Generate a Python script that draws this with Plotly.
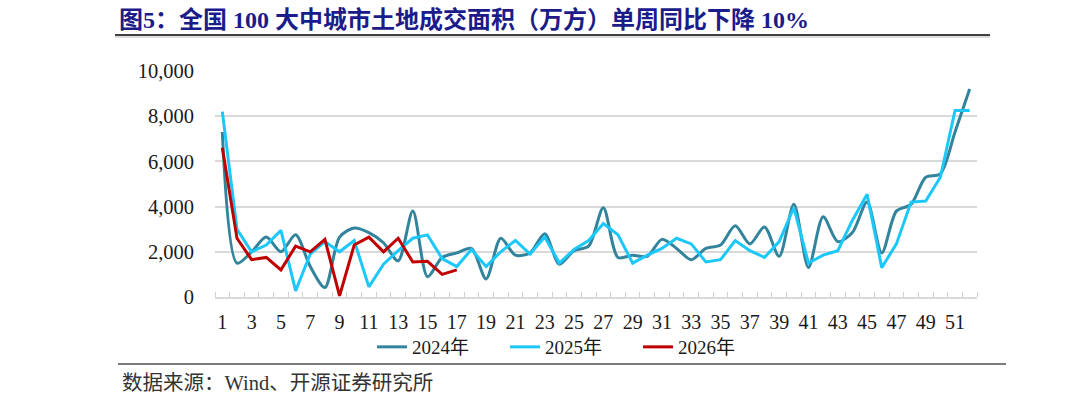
import plotly.graph_objects as go

weeks = list(range(1, 53))
tick_weeks = list(range(1, 53, 2))

y2024 = [7300, 1500, 2000, 2650, 2000, 2750, 1350, 420, 2650, 3050,
         2850, 2400, 1600, 3800, 900, 1750, 1950, 2150, 800, 2600,
         1850, 1950, 2800, 1450, 2050, 2250, 3950, 1750, 1850, 1800,
         2550, 2150, 1650, 2150, 2300, 3150, 2350, 3100, 1800, 4100,
         1300, 3550, 2450, 2850, 4200, 1950, 3800, 4100, 5300, 5450,
         7300, 9200]
y2025 = [8200, 3000, 2000, 2300, 2950, 270, 1900, 2450, 2000, 2500,
         450, 1450, 2050, 2600, 2750, 1700, 1350, 2100, 1350, 2000,
         2500, 1900, 2650, 1500, 2100, 2500, 3250, 2750, 1500, 1850,
         2150, 2600, 2350, 1550, 1650, 2500, 2050, 1750, 2450, 3950,
         1500, 1850, 2050, 3400, 4550, 1300, 2350, 4200, 4250, 5300,
         8250, 8250]
y2026 = [6600, 2600, 1650, 1750, 1200, 2250, 2000, 2550, 50, 2300,
         2650, 2000, 2600, 1550, 1580, 1000, 1200]

series_names = ["2024年", "2025年", "2026年"]
colors = ["#31849B", "#1CC8FA", "#C00000"]

title_text = "图5：全国 100 大中城市土地成交面积（万方）单周同比下降 10%"
source_text = "数据来源：Wind、开源证券研究所"

SERIF = "Times New Roman, Liberation Serif, Noto Sans CJK SC"

W, H = 1080, 413
# plot area in page pixels
L, R, T, B = 215, 977, 71, 297


def px_x(p):
    return (p - L) / (R - L)


def px_y(p):
    return (B - p) / (B - T)


fig = go.Figure()
fig.add_trace(go.Scatter(x=weeks, y=y2024, mode="lines", name=series_names[0],
                         line=dict(color=colors[0], width=3, shape="spline", smoothing=0.8)))
fig.add_trace(go.Scatter(x=weeks, y=y2025, mode="lines", name=series_names[1],
                         line=dict(color=colors[1], width=3)))
fig.add_trace(go.Scatter(x=weeks[:len(y2026)], y=y2026, mode="lines", name=series_names[2],
                         line=dict(color=colors[2], width=3)))

fig.update_layout(
    width=W, height=H,
    margin=dict(l=L, r=W - R, t=T, b=H - B, autoexpand=False),
    paper_bgcolor="white", plot_bgcolor="white",
    font=dict(family=SERIF, size=18, color="#1a1a1a"),
    showlegend=True,
    legend=dict(orientation="h", x=px_x(372), xanchor="left", y=px_y(347), yanchor="middle",
                font=dict(family=SERIF, size=19, color="#1a1a1a"),
                entrywidth=88, entrywidthmode="pixels", bgcolor="rgba(0,0,0,0)"),
    xaxis=dict(range=[0.5, 52.5], tickmode="array", tickvals=tick_weeks,
               ticktext=[str(w) for w in tick_weeks], ticks="", automargin=False,
               showgrid=False, zeroline=False, showline=True, linecolor="#D9D9D9", linewidth=1.5,
               tickfont=dict(family=SERIF, size=20, color="#1a1a1a"), ticklabelstandoff=6,
               minor=dict(ticks="inside", tick0=0.5, dtick=1, ticklen=5, tickcolor="#D0D0D0",
                          tickwidth=1, showgrid=False)),
    yaxis=dict(range=[0, 10000], tickvals=[0, 2000, 4000, 6000, 8000, 10000],
               ticktext=["0", "2,000", "4,000", "6,000", "8,000", "10,000"],
               showgrid=True, gridcolor="#D9D9D9", gridwidth=1.5, zeroline=False,
               showline=False, ticks="", ticklabelstandoff=20, automargin=False,
               tickfont=dict(family=SERIF, size=20.5, color="#1a1a1a")),
    shapes=[
        dict(type="line", xref="paper", yref="paper", x0=px_x(115), x1=px_x(990),
             y0=px_y(35), y1=px_y(35), line=dict(color="#404040", width=2)),
        dict(type="line", xref="paper", yref="paper", x0=px_x(115), x1=px_x(990),
             y0=px_y(37), y1=px_y(37), line=dict(color="#BBBBBB", width=1)),
        dict(type="line", xref="paper", yref="paper", x0=px_x(118), x1=px_x(1006),
             y0=px_y(364), y1=px_y(364), line=dict(color="#505050", width=1.5)),
    ],
    annotations=[
        dict(text="<b>" + title_text + "</b>", xref="paper", yref="paper",
             x=px_x(117), y=px_y(19), xanchor="left", yanchor="middle", showarrow=False,
             font=dict(family=SERIF, size=24, color="#1B1B8A")),
        dict(text=source_text, xref="paper", yref="paper",
             x=px_x(120), y=px_y(383), xanchor="left", yanchor="middle", showarrow=False,
             font=dict(family=SERIF, size=20.5, color="#333333")),
    ],
)

fig.write_html("out.html", config={"displayModeBar": False},
               post_script="document.body.style.margin='0';")
